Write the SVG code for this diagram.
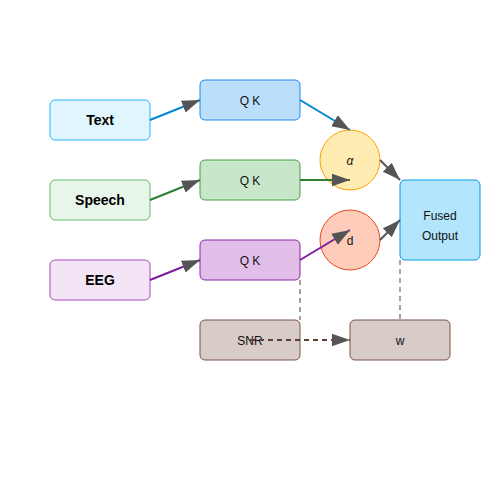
<svg xmlns="http://www.w3.org/2000/svg" width="500" height="500" viewBox="0 0 500 500">
<style>
.n{stroke-width:1;}
.lbl{font-family:"Liberation Sans",Arial,sans-serif;font-size:14px;font-weight:bold;fill:#000;text-anchor:middle;}
.sm{font-family:"Liberation Sans",Arial,sans-serif;font-size:12px;fill:#111;text-anchor:middle;}
.e{fill:none;stroke-width:2;}
.dash{fill:none;stroke-width:2;stroke-dasharray:5,4;}
</style>
<defs>
<marker id="ah" viewBox="0 0 10 7" refX="10" refY="3.5" markerWidth="9" markerHeight="7" orient="auto" markerUnits="strokeWidth">
<polygon points="0 0, 10 3.5, 0 7" fill="#555"/>
</marker>
</defs>
<rect width="500" height="500" fill="#fff"/>
<g id="text-node"><rect class="n" x="50" y="100" width="100" height="40" rx="5" fill="#E1F5FE" stroke="#29B6F6"/><text class="lbl" x="100" y="125">Text</text></g>
<g id="speech-node"><rect class="n" x="50" y="180" width="100" height="40" rx="5" fill="#E8F5E9" stroke="#66BB6A"/><text class="lbl" x="100" y="205">Speech</text></g>
<g id="eeg-node"><rect class="n" x="50" y="260" width="100" height="40" rx="5" fill="#F3E5F5" stroke="#AB47BC"/><text class="lbl" x="100" y="285">EEG</text></g>
<g id="qk1"><rect class="n" x="200" y="80" width="100" height="40" rx="5" fill="#BBDEFB" stroke="#1E88E5"/><text class="sm" x="250" y="105">Q K</text></g>
<g id="qk2"><rect class="n" x="200" y="160" width="100" height="40" rx="5" fill="#C8E6C9" stroke="#43A047"/><text class="sm" x="250" y="185">Q K</text></g>
<g id="qk3"><rect class="n" x="200" y="240" width="100" height="40" rx="5" fill="#E1BEE7" stroke="#8E24AA"/><text class="sm" x="250" y="265">Q K</text></g>
<g id="alpha"><circle class="n" cx="350" cy="160" r="30" fill="#FFECB3" stroke="#FFA000"/><text class="sm" x="350" y="165" font-style="italic">α</text></g>
<g id="d"><circle class="n" cx="350" cy="240" r="30" fill="#FFCCBC" stroke="#E64A19"/><text class="sm" x="350" y="245">d</text></g>
<g id="fused"><rect class="n" x="400" y="180" width="80" height="80" rx="5" fill="#B3E5FC" stroke="#039BE5"/><text class="sm" x="440" y="220">Fused</text><text class="sm" x="440" y="240">Output</text></g>
<g id="snr"><rect class="n" x="200" y="320" width="100" height="40" rx="5" fill="#D7CCC8" stroke="#795548"/><text class="sm" x="250" y="345">SNR</text></g>
<g id="w"><rect class="n" x="350" y="320" width="100" height="40" rx="5" fill="#D7CCC8" stroke="#795548"/><text class="sm" x="400" y="345">w</text></g>
<g id="connectors">
<line class="e" x1="150" y1="120" x2="200" y2="100" stroke="#0288D1" marker-end="url(#ah)"/>
<line class="e" x1="150" y1="200" x2="200" y2="180" stroke="#2E7D32" marker-end="url(#ah)"/>
<line class="e" x1="150" y1="280" x2="200" y2="260" stroke="#7B1FA2" marker-end="url(#ah)"/>
<line class="e" x1="300" y1="100" x2="350" y2="130" stroke="#0288D1" marker-end="url(#ah)"/>
<line class="e" x1="300" y1="180" x2="350" y2="180" stroke="#2E7D32" marker-end="url(#ah)"/>
<line class="e" x1="300" y1="260" x2="350" y2="230" stroke="#7B1FA2" marker-end="url(#ah)"/>
<line class="e" x1="380" y1="160" x2="400" y2="180" stroke="#555" marker-end="url(#ah)"/>
<line class="e" x1="380" y1="240" x2="400" y2="220" stroke="#555" marker-end="url(#ah)"/>
<line class="dash" x1="300" y1="280" x2="300" y2="320" stroke="#B0A09C"/>
<line class="dash" x1="400" y1="260" x2="400" y2="320" stroke="#B0A09C"/>
<line class="dash" x1="250" y1="340" x2="350" y2="340" stroke="#5D4037" marker-end="url(#ah)"/>
</g>
</svg>
